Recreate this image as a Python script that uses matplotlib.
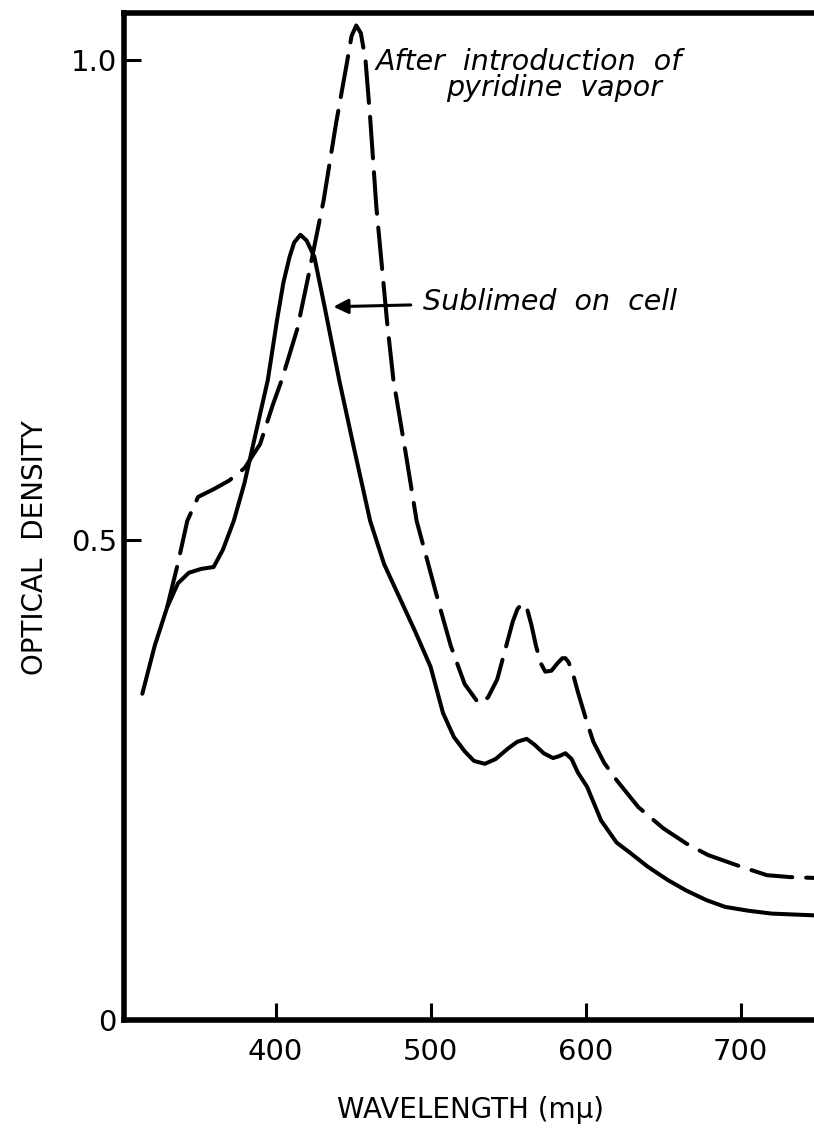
import matplotlib
matplotlib.use("Agg")
import matplotlib.pyplot as plt

# Curve readings (wavelength in m-mu, optical density)------------------------------------------------------------------
sublimed_wl = [314, 322, 330, 337, 344, 352, 360, 366, 373, 380, 387, 395, 401, 405, 409, 412, 416, 420,
               425, 432, 441, 450, 461, 470, 480, 490, 500, 508, 515, 522, 528, 535, 542, 550, 556, 562,
               567, 573, 579, 583, 587, 591, 595, 601, 610, 620, 629, 640, 653, 665, 678, 690, 705, 720,
               735, 750]
sublimed_od = [0.340, 0.390, 0.430, 0.455, 0.466, 0.470, 0.472, 0.490, 0.520, 0.560, 0.610, 0.667, 0.730,
               0.768, 0.795, 0.810, 0.818, 0.812, 0.795, 0.740, 0.667, 0.600, 0.520, 0.475, 0.440, 0.405,
               0.368, 0.320, 0.295, 0.280, 0.270, 0.267, 0.272, 0.283, 0.290, 0.293, 0.287, 0.278, 0.273,
               0.275, 0.278, 0.272, 0.258, 0.243, 0.208, 0.185, 0.174, 0.160, 0.146, 0.135, 0.125, 0.118,
               0.114, 0.111, 0.110, 0.109]

pyridine_wl = [330, 337, 343, 350, 360, 370, 380, 390, 398, 404, 414, 421, 431, 439, 446, 449, 452, 455,
               458, 461, 465, 472, 476, 484, 491, 500, 506, 513, 522, 531, 537, 543, 548, 553, 556, 559,
               562, 565, 568, 571, 574, 578, 582, 585, 587, 589, 592, 595, 600, 605, 612, 620, 634, 650,
               665, 679, 700, 717, 732, 750]
pyridine_od = [0.430, 0.476, 0.520, 0.545, 0.553, 0.562, 0.575, 0.600, 0.640, 0.667, 0.720, 0.774, 0.854,
               0.934, 0.997, 1.025, 1.036, 1.028, 1.000, 0.940, 0.847, 0.726, 0.667, 0.590, 0.520, 0.466,
               0.430, 0.390, 0.350, 0.330, 0.336, 0.355, 0.385, 0.415, 0.428, 0.434, 0.430, 0.412, 0.390,
               0.372, 0.363, 0.364, 0.372, 0.377, 0.377, 0.373, 0.360, 0.342, 0.315, 0.290, 0.268, 0.250,
               0.222, 0.200, 0.184, 0.172, 0.160, 0.151, 0.149, 0.148]

x_ticks = [400, 500, 600, 700]
y_ticks = [0, 0.5, 1.0]
y_tick_labels = ["0", "0.5", "1.0"]

# Figure ---------------------------------------------------------------------------------------------------------------
plt.rcParams['font.family'] = ['DejaVu Sans']
plt.rcParams['lines.scale_dashes'] = False

fig = plt.figure(figsize=(8.14, 11.31), dpi=100)
ax = fig.add_axes([0.152, 0.098, 0.872, 0.8905])  # right spine runs off the page like the scan

ax.plot(sublimed_wl, sublimed_od, color='black', lw=2.9, solid_capstyle='round')
ax.plot(pyridine_wl, pyridine_od, color='black', lw=2.9, dashes=(30, 10), dash_capstyle='round')

ax.set_xlim(302, 760)
ax.set_ylim(0, 1.049)

for side in ['left', 'bottom', 'top']:
    ax.spines[side].set_linewidth(4)
ax.spines['right'].set_visible(False)

ax.set_xticks(x_ticks)
ax.set_yticks(y_ticks)
ax.set_yticklabels(y_tick_labels)
ax.tick_params(axis='both', direction='in', length=12, width=2.2, labelsize=21)
ax.tick_params(axis='x', pad=13)
ax.tick_params(axis='y', pad=5)

fig.text(0.578, 0.006, "WAVELENGTH (m\u03bc)", fontsize=20, ha='center', va='bottom')
fig.text(0.043, 0.516, "OPTICAL  DENSITY", fontsize=20, rotation=90, ha='center', va='center')

# Annotations ----------------------------------------------------------------------------------------------------------
ax.text(464.5, 0.998, "After  introduction  of", fontsize=20.5, style='italic', va='center', ha='left')
ax.text(509.7, 0.971, "pyridine  vapor", fontsize=20.5, style='italic', va='center', ha='left')
ax.annotate("", xy=(435.5, 0.743), xytext=(489, 0.745),
            arrowprops=dict(arrowstyle='-|>', color='black', lw=2.2, mutation_scale=22))
ax.text(495, 0.748, "Sublimed  on  cell", fontsize=20.5, style='italic', va='center', ha='left')

fig.savefig("out.png", dpi=100, facecolor='white')
